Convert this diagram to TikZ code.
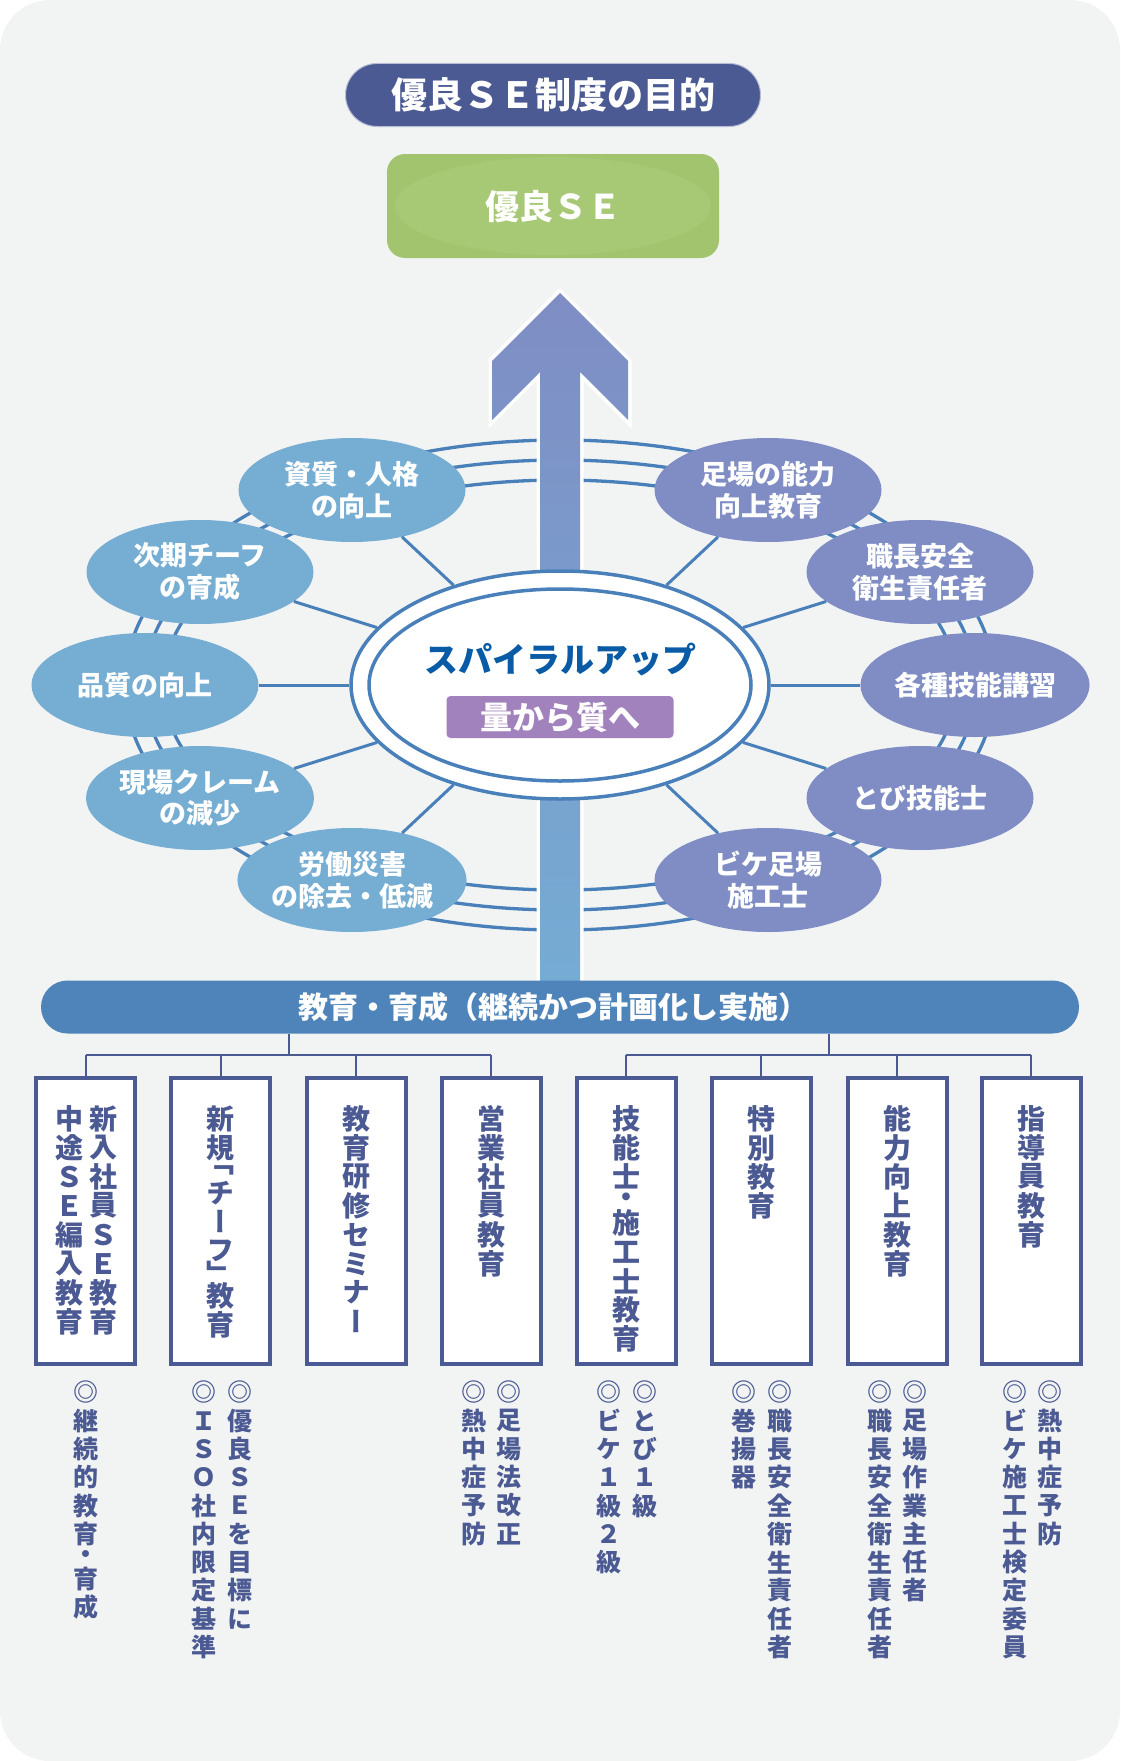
\documentclass[tikz,border=0pt]{standalone}
\usepackage{fontspec}
\setmainfont{Noto Sans CJK JP}
\newfontfamily\jpv[RawFeature=+vert]{Noto Sans CJK JP}
\usetikzlibrary{shapes.geometric}
\definecolor{bgC}{HTML}{F2F4F3}
\definecolor{titleC}{HTML}{4B5A93}
\definecolor{greenC}{HTML}{A2C46E}
\definecolor{greenHi}{HTML}{A7C875}
\definecolor{ringC}{HTML}{4A80BA}
\definecolor{satL}{HTML}{76ADD3}
\definecolor{satR}{HTML}{7F8DC4}
\definecolor{spiralC}{HTML}{0A5BA6}
\definecolor{purpleC}{HTML}{A282BC}
\definecolor{eduC}{HTML}{4F84BA}
\definecolor{boxC}{HTML}{4B5A93}
\definecolor{arrTop}{HTML}{7F8DC4}
\definecolor{arrBot}{HTML}{75ACD4}

\ExplSyntaxOn
\dim_new:N \l__vt_p_dim
\cs_new_protected:Npn \__vt_cell:n #1
  { \vbox_to_ht:nn { \l__vt_p_dim } { \vss \hbox_to_wd:nn {1em} { \hss #1 \hss } \vss } }
\cs_new_protected:Npn \__vt_mid:nn #1#2
  { \vbox_to_ht:nn { #2 \l__vt_p_dim } { \vss \__vt_cell:n {#1} \vss } }
\NewDocumentCommand \vtext { m m }
  {
    \vbox:n
      {
        \offinterlineskip
        \dim_set:Nn \l__vt_p_dim {#1}
        \tl_map_inline:nn {#2}
          {
            \str_case:nnF {##1}
              {
                {「} { \__vt_mid:nn {##1} {0.55} }
                {」} { \__vt_mid:nn {##1} {0.55} }
                {・} { \__vt_mid:nn {##1} {0.6} }
              }
              { \__vt_mid:nn {##1} {1} }
          }
      }
  }
\ExplSyntaxOff

\tikzset{
  sat/.style={ellipse, minimum width=227pt, minimum height=104pt, inner sep=0pt,
    text=white, align=center, font=\fontsize{27pt}{32pt}\selectfont\bfseries},
  satl/.style={sat, fill=satL},
  satr/.style={sat, fill=satR},
  spoke/.style={draw=ringC, line width=3pt},
  ring/.style={draw=ringC, line width=3.3pt},
  ebox/.style={rectangle, draw=boxC, fill=white, line width=4pt,
    minimum width=99pt, minimum height=286pt, inner sep=0pt},
  vbox/.style={inner sep=0pt, anchor=north, text=boxC,
    font=\jpv\bfseries\fontsize{28pt}{28pt}\selectfont},
  vnote/.style={inner sep=0pt, anchor=north, text=boxC,
    font=\jpv\bfseries\fontsize{25pt}{25pt}\selectfont},
  tree/.style={draw=boxC, line width=2pt},
}

\begin{document}
\begin{tikzpicture}[x=1pt,y=-1pt]
\useasboundingbox (0,0) rectangle (1120,1761);
\fill[white] (0,0) rectangle (1120,1761);
\fill[bgC, rounded corners=50pt] (0,0) rectangle (1120,1761);

% title and goal
\node[fill=titleC, draw=titleC!40!white, line width=1pt, rounded corners=31.5pt,
  minimum width=415pt, minimum height=63pt, inner sep=0pt, text=white,
  font=\fontsize{36pt}{36pt}\selectfont\bfseries] (title) at (553,95) {優良ＳＥ制度の目的};
\node[fill=greenC, rounded corners=18pt, minimum width=332pt, minimum height=104pt,
  inner sep=0pt] (goal) at (553,206) {};
\fill[greenHi] (553,206) ellipse [x radius=158pt, y radius=49pt];
\node[text=white, font=\fontsize{34pt}{34pt}\selectfont\bfseries, inner sep=0pt]
  (goalt) at (553,207) {優良ＳＥ};

% rings
\draw[ring] (560,685) ellipse [x radius=435pt, y radius=245pt];
\draw[ring] (560,685) ellipse [x radius=416pt, y radius=225pt];
\draw[ring] (560,685) ellipse [x radius=397pt, y radius=205pt];

% arrow
\draw[white, line width=7pt, line join=miter]
  (560,293) -- (628,361) -- (628,420) -- (580,372) -- (580,985) -- (540,985)
  -- (540,372) -- (492,420) -- (492,361) -- cycle;
\shade[top color=arrTop, bottom color=arrBot]
  (560,293) -- (628,361) -- (628,420) -- (580,372) -- (580,985) -- (540,985)
  -- (540,372) -- (492,420) -- (492,361) -- cycle;

% satellites
\node[satl] (s1) at (352,490) {資質・人格\\の向上};
\node[satl] (s2) at (200,572) {次期チーフ\\の育成};
\node[satl] (s3) at (145,685) {品質の向上};
\node[satl] (s4) at (200,798) {現場クレーム\\の減少};
\node[satl] (s5) at (352,880) {労働災害\\の除去・低減};
\node[satr] (s6) at (768,490) {足場の能力\\向上教育};
\node[satr] (s7) at (920,572) {職長安全\\衛生責任者};
\node[satr] (s8) at (975,685) {各種技能講習};
\node[satr] (s9) at (920,798) {とび技能士};
\node[satr] (s10) at (768,880) {ビケ足場\\施工士};

% center
\node[ellipse, fill=white, draw=ringC, line width=3.5pt, minimum width=418pt,
  minimum height=228pt, inner sep=0pt] (c) at (560,685) {};
\draw[ringC, line width=3.5pt] (560,685) ellipse [x radius=191pt, y radius=96pt];
\node[text=spiralC, font=\fontsize{34pt}{34pt}\selectfont\bfseries, inner sep=0pt]
  (spt) at (560,660) {スパイラルアップ};
\node[fill=purpleC, rounded corners=4pt, minimum width=227pt, minimum height=42pt,
  inner sep=0pt, text=white, font=\fontsize{32pt}{32pt}\selectfont\bfseries]
  (qq) at (560,717) {量から質へ};

% spokes
\foreach \s in {s1,s2,s3,s4,s5,s6,s7,s8,s9,s10}
  \draw[spoke] (c) -- (\s);

% education bar
\node[fill=eduC, rounded corners=26.5pt, minimum width=1038pt, minimum height=53pt,
  inner sep=0pt] (edu) at (560,1007) {};
\node[text=white, font=\fontsize{30pt}{30pt}\selectfont\bfseries, inner sep=0pt]
  (edut) at (553,1007) {教育・育成（継続かつ計画化し実施）};

% boxes
\node[ebox] (b1) at (85.5,1221) {};
\node[ebox] (b2) at (220.7,1221) {};
\node[ebox] (b3) at (356.4,1221) {};
\node[ebox] (b4) at (491.4,1221) {};
\node[ebox] (b5) at (626.4,1221) {};
\node[ebox] (b6) at (761.4,1221) {};
\node[ebox] (b7) at (897.1,1221) {};
\node[ebox] (b8) at (1031.4,1221) {};

% tree
\coordinate (jl) at (288.6,1055);
\coordinate (jr) at (828.6,1055);
\draw[tree] (edu.south -| jl) -- (jl);
\draw[tree] (edu.south -| jr) -- (jr);
\draw[tree] (b1.north |- jl) -- (b4.north |- jl);
\draw[tree] (b5.north |- jr) -- (b8.north |- jr);
\foreach \b in {b1,b2,b3,b4} \draw[tree] (\b.north |- jl) -- (\b.north);
\foreach \b in {b5,b6,b7,b8} \draw[tree] (\b.north |- jr) -- (\b.north);

% box texts
\node[vbox] (t1a) at (103,1104) {\vtext{29pt}{新入社員ＳＥ教育}};
\node[vbox] (t1b) at (69,1104) {\vtext{29pt}{中途ＳＥ編入教育}};
\node[vbox] (t2) at (220.7,1104) {\vtext{29pt}{新規「チーフ」教育}};
\node[vbox] (t3) at (356.4,1104) {\vtext{29pt}{教育研修セミナー}};
\node[vbox] (t4) at (491.4,1104) {\vtext{29pt}{営業社員教育}};
\node[vbox] (t5) at (626.4,1104) {\vtext{29pt}{技能士・施工士教育}};
\node[vbox] (t6) at (761.4,1104) {\vtext{29pt}{特別教育}};
\node[vbox] (t7) at (897.1,1104) {\vtext{29pt}{能力向上教育}};
\node[vbox] (t8) at (1031.4,1104) {\vtext{29pt}{指導員教育}};

% notes
\node[vnote] (n1) at (85.7,1378) {\vtext{28.3pt}{◎継続的教育・育成}};
\node[vnote] (n2a) at (239.6,1378) {\vtext{28.3pt}{◎優良ＳＥを目標に}};
\node[vnote] (n2b) at (203.6,1378) {\vtext{28.3pt}{◎ＩＳＯ社内限定基準}};
\node[vnote] (n4a) at (509,1378) {\vtext{28.3pt}{◎足場法改正}};
\node[vnote] (n4b) at (474,1378) {\vtext{28.3pt}{◎熱中症予防}};
\node[vnote] (n5a) at (644.6,1378) {\vtext{28.3pt}{◎とび１級}};
\node[vnote] (n5b) at (609,1378) {\vtext{28.3pt}{◎ビケ１級２級}};
\node[vnote] (n6a) at (779.6,1378) {\vtext{28.3pt}{◎職長安全衛生責任者}};
\node[vnote] (n6b) at (743.9,1378) {\vtext{28.3pt}{◎巻揚器}};
\node[vnote] (n7a) at (914.7,1378) {\vtext{28.3pt}{◎足場作業主任者}};
\node[vnote] (n7b) at (879.6,1378) {\vtext{28.3pt}{◎職長安全衛生責任者}};
\node[vnote] (n8a) at (1050.4,1378) {\vtext{28.3pt}{◎熱中症予防}};
\node[vnote] (n8b) at (1014.6,1378) {\vtext{28.3pt}{◎ビケ施工士検定委員}};
\end{tikzpicture}
\end{document}
